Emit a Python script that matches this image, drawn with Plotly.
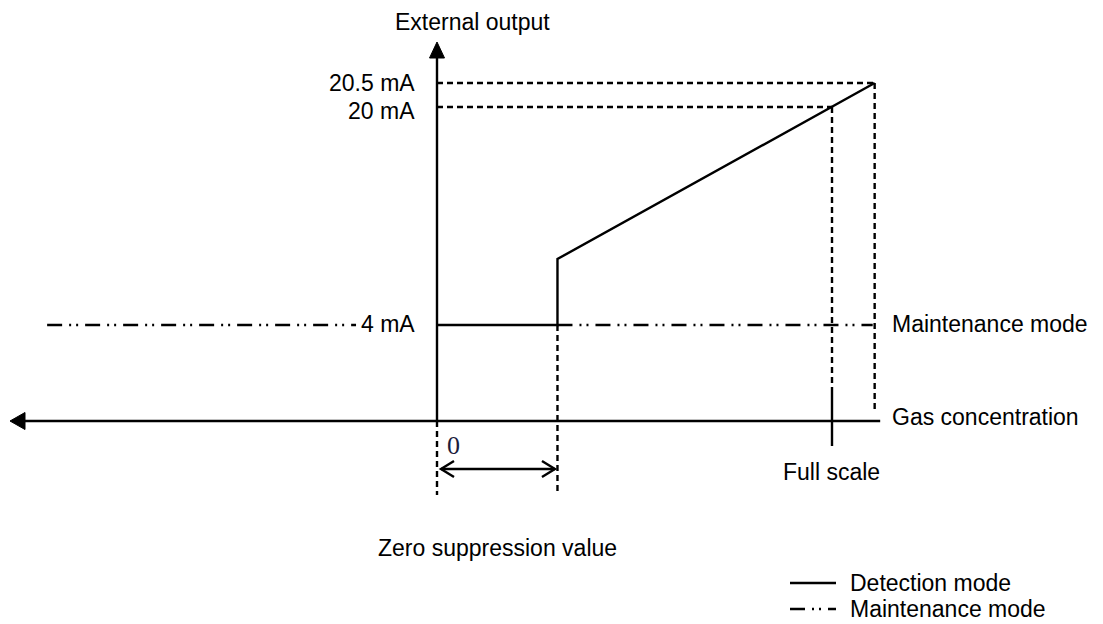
import plotly.graph_objects as go

# ---------------- data (schematic units) ----------------
# concentration axis, in % of full scale
conc_zero = 0.0
conc_suppression = 30.5
conc_full = 100.0
conc_over = 110.8
conc_left_end = -108.1          # tip of the left-pointing axis arrow
conc_right_end = 112.2          # right end of the concentration axis
maint_left_x = [-98.7, -20.5]   # maintenance-mode segment left of the output axis
maint_right_x = [30.5, 110.3]   # maintenance-mode segment right of zero suppression

# output axis, schematic heights above the concentration axis
output_labels = ["4 mA", "20 mA", "20.5 mA"]
output_levels = [96, 314, 338]
output_step_top = 162
output_axis_top = 379

detection_x = [conc_zero, conc_suppression, conc_suppression, conc_over]
detection_y = [output_levels[0], output_levels[0], output_step_top, output_levels[2]]

legend_labels = ["Detection mode", "Maintenance mode"]

# ---------------- geometry helpers ----------------
W, H = 1103, 624
PX_X = 3.95            # pixels per concentration unit
ORIGIN_PX = 437
BASE_PX = 421
XR = [(0 - ORIGIN_PX) / PX_X, (W - ORIGIN_PX) / PX_X]
YR = [BASE_PX - H, BASE_PX]

def dx(px):
    return px / PX_X

BLACK = "black"
DASH = "6px,4px"
DASHDOT = "15px,7px,2px,5px,2px,7px"
FONT = "Liberation Sans, Arial, sans-serif"
FS = 23
LW = 2.4

fig = go.Figure()

def line(xs, ys, dash="solid", width=LW):
    fig.add_trace(go.Scatter(x=xs, y=ys, mode="lines", hoverinfo="skip",
                             line=dict(color=BLACK, width=width, dash=dash),
                             showlegend=False))

def poly(xs, ys):
    fig.add_trace(go.Scatter(x=xs, y=ys, mode="lines", fill="toself",
                             fillcolor=BLACK, hoverinfo="skip",
                             line=dict(color=BLACK, width=1), showlegend=False))

# concentration axis with left arrow
line([conc_right_end, conc_left_end + dx(15)], [0, 0])
poly([conc_left_end, conc_left_end + dx(15), conc_left_end + dx(15), conc_left_end],
     [0, 8.5, -8.5, 0])

# output axis with up arrow
line([conc_zero, conc_zero], [0, output_axis_top - 16])
poly([conc_zero, conc_zero + dx(7.5), conc_zero - dx(7.5), conc_zero],
     [output_axis_top, output_axis_top - 16, output_axis_top - 16, output_axis_top])

# dashed guides
line([conc_zero, conc_over], [output_levels[2]] * 2, DASH)
line([conc_zero, conc_full], [output_levels[1]] * 2, DASH)
line([conc_over, conc_over], [output_levels[2], 8], DASH)
line([conc_full, conc_full], [output_levels[1], 31], DASH)
line([conc_full, conc_full], [31, -25])
line([conc_zero, conc_zero], [0, -74], DASH)
line([conc_suppression, conc_suppression], [output_levels[0], -74], DASH)

# zero-suppression double arrow
ya = -48
xa0, xa1 = conc_zero + dx(4), conc_suppression - dx(2.5)
line([xa0, xa1], [ya, ya])
line([xa0 + dx(13), xa0, xa0 + dx(13)], [ya + 8, ya, ya - 8])
line([xa1 - dx(13), xa1, xa1 - dx(13)], [ya + 8, ya, ya - 8])

# maintenance mode (dash-dot)
line(maint_left_x, [output_levels[0]] * 2, DASHDOT)
line(maint_right_x, [output_levels[0]] * 2, DASHDOT)

# detection mode (solid)
line(detection_x, detection_y)

# legend
lx0, lx1 = conc_zero + dx(790 - ORIGIN_PX), conc_zero + dx(836 - ORIGIN_PX)
ly = [-162, -188]
line([lx0, lx1], [ly[0]] * 2)
line([lx0, lx1], [ly[1]] * 2, DASHDOT)

# ---------------- text ----------------
def text(t, x, y, xanchor="left", size=FS, family=FONT, color=BLACK):
    fig.add_annotation(text=t, x=x, y=y, xref="x", yref="y", showarrow=False,
                       xanchor=xanchor, yanchor="middle",
                       font=dict(family=family, size=size, color=color))

text("External output", conc_zero + dx(35), 399, "center")
lab_x = conc_zero - dx(20)
text(output_labels[2], lab_x, output_levels[2], "right")
text(output_labels[1], lab_x, output_levels[1] - 4, "right")
text(output_labels[0], lab_x, output_levels[0] + 1, "right")
text("Maintenance mode", conc_over + dx(15), output_levels[0] + 1)
text("Gas concentration", conc_over + dx(15), 4)
text("Full scale", conc_full - dx(51), -51)
text("0", conc_zero + dx(16), -24, "center", size=26,
     family="Liberation Serif, Times New Roman, serif", color="#1c1c3c")
text("Zero suppression value", conc_zero + dx(60), -127, "center")
text(legend_labels[0], lx1 + dx(12), ly[0])
text(legend_labels[1], lx1 + dx(12), ly[1])

fig.update_layout(
    width=W, height=H, autosize=False,
    margin=dict(l=0, r=0, t=0, b=0, pad=0),
    paper_bgcolor="white", plot_bgcolor="white",
    xaxis=dict(range=XR, visible=False, fixedrange=True),
    yaxis=dict(range=YR, visible=False, fixedrange=True),
    showlegend=False,
)

fig.write_html(
    "out.html",
    config={"displayModeBar": False},
    post_script="document.body.style.margin='0';document.body.style.overflow='hidden';",
)
